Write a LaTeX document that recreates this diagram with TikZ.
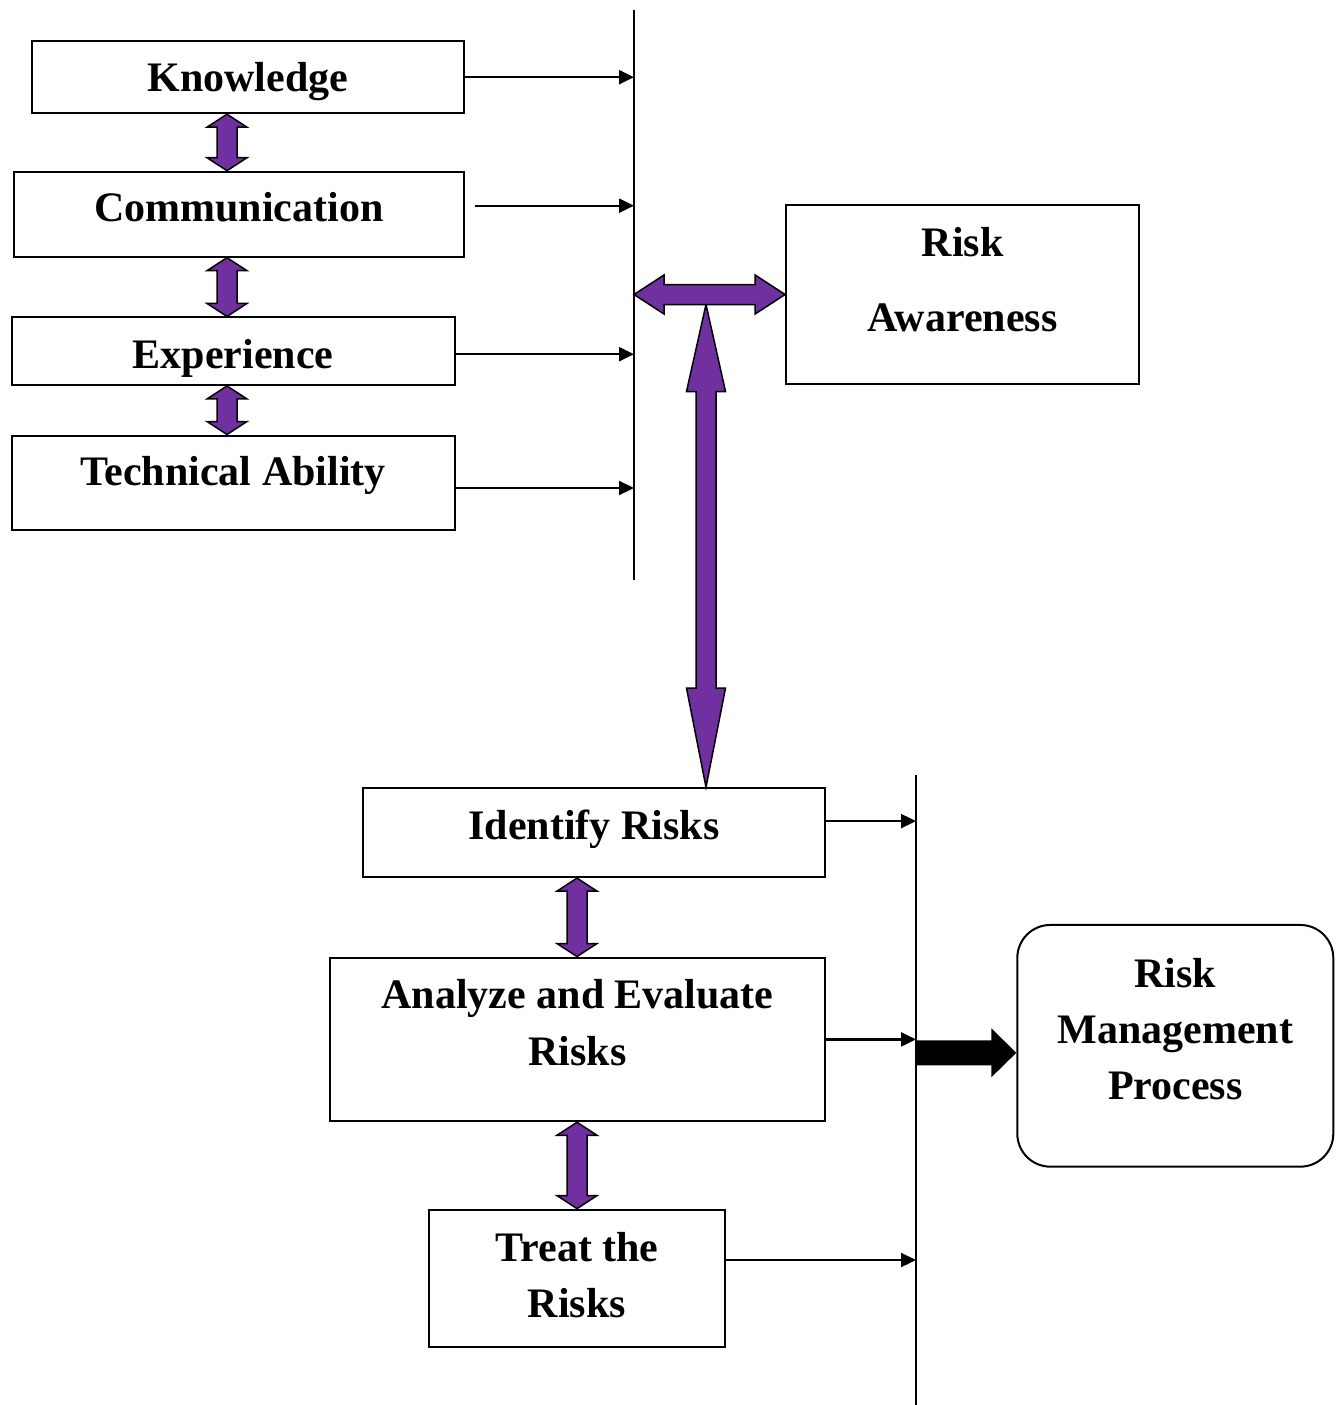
\documentclass[tikz,border=0pt]{standalone}
\usepackage{xcolor}
\usepackage{fontspec}
\setmainfont{Liberation Serif}
\usepackage{tikz}
\usetikzlibrary{shapes,calc,arrows.meta}

\definecolor{riskpurple}{HTML}{7030A0}

% Purple two-headed block arrow between two points above each other
\newcommand{\purplelink}[2]{%
    \draw[blockarrow] let \p1=(#1), \p2=(#2) in
        (\x1,\y1) -- (\x1+20pt,\y1-13pt) -- (\x1+10pt,\y1-13pt) -- (\x1+10pt,\y2+13pt)
        -- (\x1+20pt,\y2+13pt) -- (\x1,\y2) -- (\x1-20pt,\y2+13pt) -- (\x1-10pt,\y2+13pt)
        -- (\x1-10pt,\y1-13pt) -- (\x1-20pt,\y1-13pt) -- cycle;}

\begin{document}
\begin{tikzpicture}[x=1pt,y=-1pt]
        % Define the styles for boxes, texts and arrows
        \tikzstyle{box}=[draw, line width=2pt, inner sep=0pt];
        \tikzstyle{boxtext}=[font=\bfseries\fontsize{42}{50}\selectfont, align=center, inner sep=0pt];
        \tikzstyle{feed}=[line width=2.2pt, -{Triangle[length=15pt,width=14pt]}];
        \tikzstyle{blockarrow}=[fill=riskpurple, draw=black, line width=1.5pt, line join=miter];
        
        % Fix the size of the page
        \useasboundingbox (0,0) rectangle (1338,1405);
        
        % Upper group of factors
        \node[box, minimum width=432, minimum height=72, label={[boxtext,yshift=-4pt]center:Knowledge}] (know) at (247.7,77.2) {};
        \node[box, minimum width=450, minimum height=85, label={[boxtext,yshift=7pt]center:Communication}] (comm) at (238.8,214.2) {};
        \node[box, minimum width=443, minimum height=67.5, label={[boxtext,yshift=-7pt]center:Experience}] (exp) at (233.1,351.2) {};
        \node[box, minimum width=443, minimum height=94, label={[boxtext,yshift=7pt]center:Technical Ability}] (tech) at (233.1,482.5) {};
        
        % Risk awareness box
        \node[box, minimum width=353, minimum height=179, label={[boxtext,yshift=14.5pt]center:{Risk\\[25pt]Awareness}}] (ra) at (962.6,294.5) {};
        
        % Lower group of steps
        \node[box, minimum width=462.6, minimum height=89, label={[boxtext,yshift=3pt]center:Identify Risks}] (ident) at (594,832.6) {};
        \node[box, minimum width=495.4, minimum height=163.7, label={[boxtext,yshift=17pt]center:{Analyze and Evaluate\\[7pt]Risks}}] (analyze) at (577.6,1039.4) {};
        \node[box, minimum width=296.6, minimum height=137.8, label={[boxtext,yshift=3pt]center:{Treat the\\[6pt]Risks}}] (treat) at (577,1278.5) {};
        
        % Risk management process box
        \node[box, rounded corners=33pt, minimum width=316, minimum height=241.7, label={[boxtext,yshift=16.5pt]center:{Risk\\[6pt]Management\\[6pt]Process}}] (rmp) at (1175.3,1045.8) {};
        
        % Collecting lines
        \coordinate (l1top) at (634,10);
        \coordinate (l1bot) at (634,580);
        \coordinate (l2top) at (916,775);
        \coordinate (l2bot) at (916,1405);
        \draw[line width=2pt] (l1top) -- (l1bot);
        \draw[line width=2pt] (l2top) -- (l2bot);
        
        % Start points of the thin arrows
        \coordinate (commout) at ($(comm.east)+(10,-8.5)$);
        \coordinate (expout) at ($(exp.east)+(0,3)$);
        \coordinate (techout) at ($(tech.east)+(0,5.5)$);
        \coordinate (identout) at ($(ident.east)+(0,-11.5)$);
        \coordinate (treatout) at ($(treat.east)+(0,-18.5)$);
        
        % Thin arrows into the lines
        \draw[feed] (know.east) -- (know.east -| l1top);
        \draw[feed] (commout) -- (commout -| l1top);
        \draw[feed] (expout) -- (expout -| l1top);
        \draw[feed] (techout) -- (techout -| l1top);
        \draw[feed] (identout) -- (identout -| l2top);
        \draw[feed] (analyze.east) -- (analyze.east -| l2top);
        \draw[feed] (treatout) -- (treatout -| l2top);
        
        % Purple links between neighbouring boxes
        \coordinate (kc) at (227,0);
        \purplelink{know.south -| kc}{comm.north -| kc}
        \purplelink{comm.south -| kc}{exp.north -| kc}
        \purplelink{exp.south -| kc}{tech.north -| kc}
        \purplelink{ident.south -| treat.north}{analyze.north -| treat.north}
        \purplelink{analyze.south -| treat.north}{treat.north}
        
        % The T shaped link to risk awareness
        \coordinate (tee) at (706,0);
        \draw[blockarrow] let \p1=($(ra.west -| tee)+(0,10)$), \p2=(ident.north -| tee) in
            (\x1,\y1) -- (\x1+19.5pt,\y1-87pt) -- (\x1+10pt,\y1-87pt) -- (\x1+10pt,\y2+99pt)
            -- (\x1+19.5pt,\y2+99pt) -- (\x1,\y2) -- (\x1-19.5pt,\y2+99pt) -- (\x1-10pt,\y2+99pt)
            -- (\x1-10pt,\y1-87pt) -- (\x1-19.5pt,\y1-87pt) -- cycle;
        \draw[blockarrow] let \p1=(ra.west -| l1top), \p2=(ra.west) in
            (\x1,\y1) -- (\x1+30pt,\y1+19.5pt) -- (\x1+30pt,\y1+10pt) -- (\x2-30pt,\y1+10pt)
            -- (\x2-30pt,\y1+19.5pt) -- (\x2,\y1) -- (\x2-30pt,\y1-19.5pt) -- (\x2-30pt,\y1-10pt)
            -- (\x1+30pt,\y1-10pt) -- (\x1+30pt,\y1-19.5pt) -- cycle;
        
        % Black arrow into the risk management process
        \coordinate (rin) at ($(rmp.west)+(0,7)$);
        \fill[black] let \p1=(rin -| l2top), \p2=(rin) in
            (\x1,\y1+12.5pt) -- (\x2-25pt,\y1+12.5pt) -- (\x2-25pt,\y1+24.5pt) -- (\x2,\y1)
            -- (\x2-25pt,\y1-24.5pt) -- (\x2-25pt,\y1-12.5pt) -- (\x1,\y1-12.5pt) -- cycle;
    \end{tikzpicture}
\end{document}
